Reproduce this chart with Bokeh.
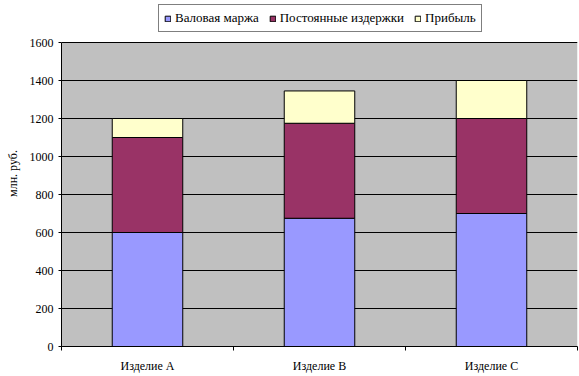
from bokeh.plotting import figure
from bokeh.models import FixedTicker, Legend, Range1d, ColumnDataSource, BoxAnnotation
from bokeh.embed import file_html
from bokeh.resources import INLINE

categories = ["Изделие А", "Изделие В", "Изделие С"]
series_names = ["Валовая маржа", "Постоянные издержки", "Прибыль"]
gross_margin = [600, 675, 700]
fixed_costs = [500, 500, 500]
profit = [100, 170, 200]
y_ticks = [0, 200, 400, 600, 800, 1000, 1200, 1400, 1600]
colors = ["#9999FF", "#993366", "#FFFFCC"]

FONT = "'Times New Roman', 'Liberation Serif', serif"
Y_MAX = y_ticks[-1]
# extra headroom above the value axis holds the legend (frame top = window top)
Y_TOP = Y_MAX * 346 / 304

x_pos = [i + 0.5 for i in range(len(categories))]
boundaries = list(range(len(categories) + 1))

source = ColumnDataSource(dict(x=x_pos, gross=gross_margin, fixed=fixed_costs, profit=profit))

p = figure(width=579, height=376,
           x_range=Range1d(0, len(categories)), y_range=Range1d(0, Y_TOP),
           output_backend="svg", toolbar_location=None,
           min_border_left=61, min_border_right=2, min_border_top=0, min_border_bottom=30)

p.background_fill_color = "white"
p.border_fill_color = "white"
p.outline_line_color = None

# grey plot area only over the value range
p.add_layout(BoxAnnotation(bottom=0, top=Y_MAX, fill_color="#C0C0C0", fill_alpha=1,
                           line_color=None, level="image"))

renderers = p.vbar_stack(["gross", "fixed", "profit"], x="x", width=0.41,
                         fill_color=colors, line_color="black", line_width=1, source=source)

legend = Legend(items=[(n, [r]) for n, r in zip(series_names, renderers)],
                orientation="horizontal", location=(97, 314))
legend.label_text_font = FONT
legend.label_text_font_size = "13px"
legend.label_text_color = "black"
legend.label_height = 13
legend.glyph_width = 7
legend.glyph_height = 7
legend.label_standoff = 4
legend.spacing = 10
legend.padding = 5
legend.margin = 0
legend.border_line_color = "black"
legend.border_line_width = 1
legend.background_fill_color = "white"
legend.background_fill_alpha = 1
p.add_layout(legend, "center")

# Y axis
p.yaxis.ticker = FixedTicker(ticks=y_ticks)
p.yaxis.bounds = (0, Y_MAX)
p.yaxis.axis_label = "млн. руб."
p.yaxis.axis_label_text_font = FONT
p.yaxis.axis_label_text_font_size = "12px"
p.yaxis.axis_label_text_font_style = "normal"
p.yaxis.axis_label_text_color = "black"
p.yaxis.axis_label_standoff = 7
p.yaxis.major_label_text_font = FONT
p.yaxis.major_label_text_font_size = "12px"
p.yaxis.major_label_text_color = "black"
p.yaxis.major_label_standoff = 5
p.yaxis.major_tick_in = 0
p.yaxis.major_tick_out = 3
p.yaxis.major_tick_line_color = "black"
p.yaxis.minor_tick_line_color = None
p.yaxis.axis_line_color = "black"

p.ygrid.ticker = FixedTicker(ticks=y_ticks)
p.ygrid.grid_line_color = "black"
p.ygrid.grid_line_width = 1
p.xgrid.grid_line_color = None

# X axis
p.xaxis.ticker = FixedTicker(ticks=x_pos, minor_ticks=boundaries)
p.xaxis.major_label_overrides = {xp: c for xp, c in zip(x_pos, categories)}
p.xaxis.major_label_text_font = FONT
p.xaxis.major_label_text_font_size = "12px"
p.xaxis.major_label_text_color = "black"
p.xaxis.major_label_standoff = 8
p.xaxis.major_tick_line_color = None
p.xaxis.major_tick_in = 0
p.xaxis.major_tick_out = 0
p.xaxis.minor_tick_line_color = "black"
p.xaxis.minor_tick_in = 0
p.xaxis.minor_tick_out = 4
p.xaxis.axis_line_color = "black"

open("out.html", "w").write(file_html(p, INLINE))
